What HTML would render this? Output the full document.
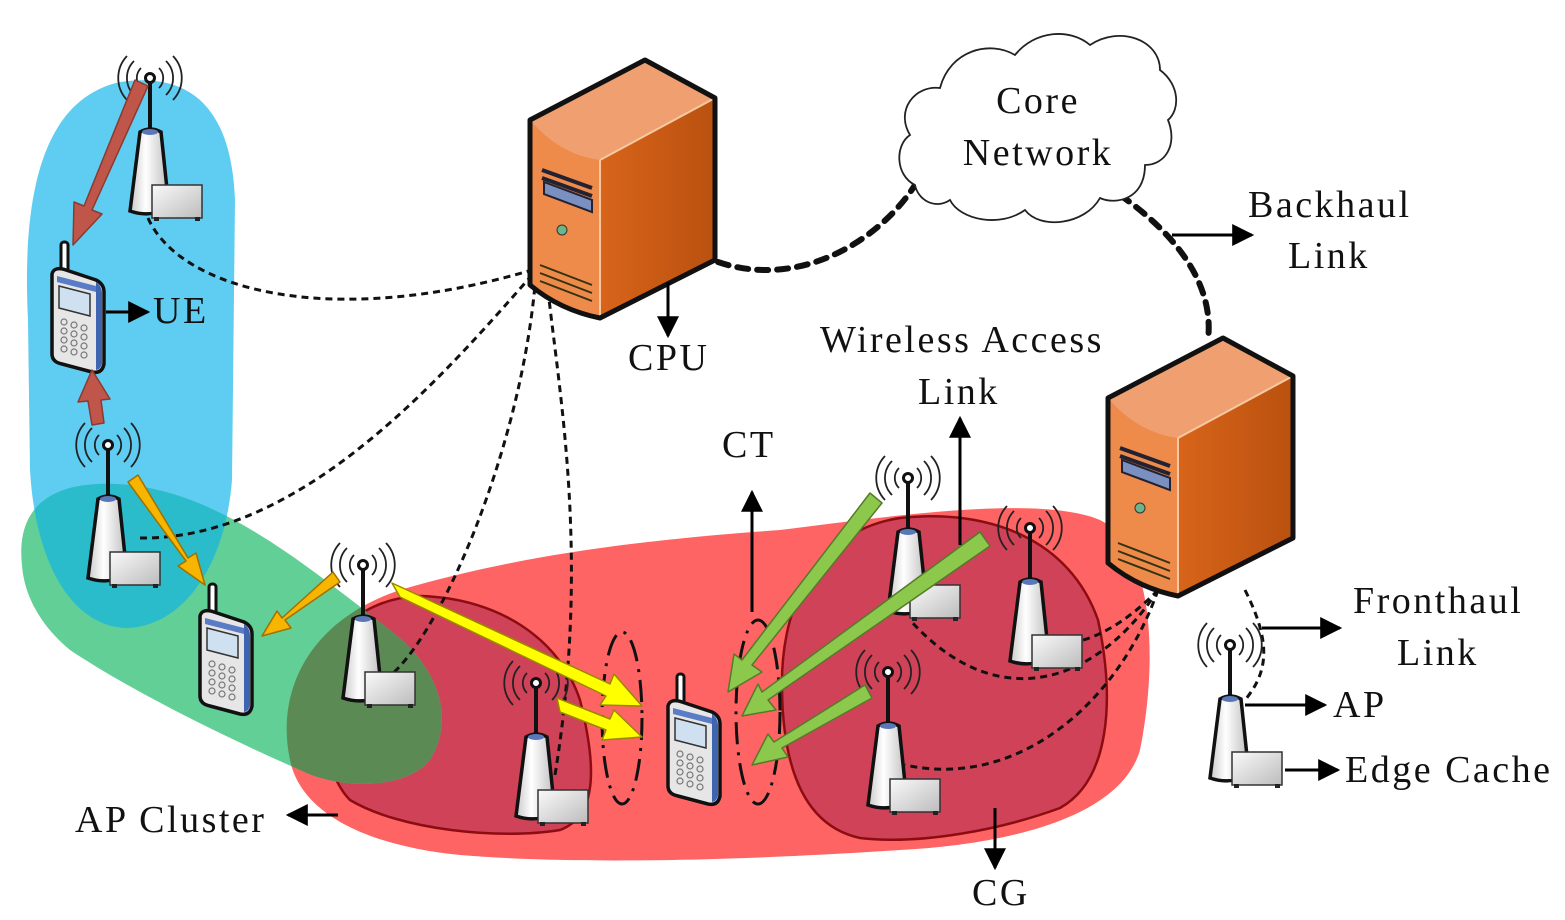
<!DOCTYPE html>
<html><head><meta charset="utf-8"><style>
html,body{margin:0;padding:0;background:#fff;}
svg{display:block;}
text{font-family:"Liberation Serif",serif;font-size:38px;letter-spacing:2.5px;fill:#111;}
</style></head><body>
<svg width="1565" height="920" viewBox="0 0 1565 920" xmlns="http://www.w3.org/2000/svg">
<defs>
<linearGradient id="tw" x1="0" x2="1"><stop offset="0" stop-color="#c8c8c8"/><stop offset="0.4" stop-color="#fff"/><stop offset="1" stop-color="#bdbdbd"/></linearGradient>
<linearGradient id="bx" x1="0" x2="1" y1="0" y2="1"><stop offset="0" stop-color="#fafafa"/><stop offset="1" stop-color="#bcbcbc"/></linearGradient>
<linearGradient id="sf" x1="0" x2="1"><stop offset="0" stop-color="#d8641a"/><stop offset="1" stop-color="#b9510f"/></linearGradient>
<g id="ap">
 <path d="M-9,-10 A14,14 0 0 0 -9,10 M9,-10 A14,14 0 0 1 9,10 M-16,-17 A24,24 0 0 0 -16,17 M16,-17 A24,24 0 0 1 16,17 M-23,-22 A32,32 0 0 0 -23,22 M23,-22 A32,32 0 0 1 23,22" fill="none" stroke="#222" stroke-width="1.8"/>
 <circle cx="0" cy="0" r="4.5" fill="#fff" stroke="#111" stroke-width="3"/>
 <line x1="0" y1="5" x2="0" y2="52" stroke="#111" stroke-width="4"/>
 <path d="M-10,54 Q0,48 11,54 L19,130 Q0,140 -20,133 Z" fill="url(#tw)" stroke="#111" stroke-width="3.5"/>
 <ellipse cx="0" cy="54" rx="8" ry="3" fill="#5a78b8"/>
 <rect x="2" y="107" width="50" height="33" fill="url(#bx)" stroke="#333" stroke-width="1.5"/>
 <rect x="4" y="139" width="5" height="4" fill="#222"/><rect x="45" y="139" width="5" height="4" fill="#222"/>
</g>
<g id="ph">
 <rect x="9" y="-26" width="7" height="30" rx="3" fill="#fff" stroke="#111" stroke-width="3"/>
 <path d="M0,6 Q2,-2 14,2 L44,12 Q52,16 52,24 L52,96 Q50,106 40,104 L10,96 Q0,94 0,86 Z" fill="#e6e6e6" stroke="#111" stroke-width="3.5"/>
 <path d="M44,14 Q50,18 50,26 L50,96 Q48,102 44,102 Z" fill="#3f64b0"/>
 <path d="M5,8 L44,18 L44,24 L5,14Z" fill="#5a7cc6"/>
 <path d="M7,18 L38,26 L38,48 L7,40 Z" fill="#cfe0f0" stroke="#333" stroke-width="1.5"/>
 <g fill="none" stroke="#777" stroke-width="1.2"><circle cx="12" cy="54" r="3"/><circle cx="22" cy="57" r="3"/><circle cx="32" cy="60" r="3"/><circle cx="12" cy="63" r="3"/><circle cx="22" cy="66" r="3"/><circle cx="32" cy="69" r="3"/><circle cx="12" cy="72" r="3"/><circle cx="22" cy="75" r="3"/><circle cx="32" cy="78" r="3"/><circle cx="12" cy="81" r="3"/><circle cx="22" cy="84" r="3"/><circle cx="32" cy="87" r="3"/></g>
</g>
<g id="sv">
 <path d="M0,0 L115,-60 L185,-22 L185,140 L70,198 Q30,190 0,165 Z" fill="#ee8a4a"/>
 <path d="M70,40 L185,-22 L185,140 L70,198 Z" fill="url(#sf)"/>
 <path d="M0,0 L115,-60 L185,-22 L70,40 Q30,35 0,0Z" fill="#f0a070"/>
 <line x1="70" y1="40" x2="70" y2="198" stroke="#f7c9a2" stroke-width="2"/>
 <line x1="70" y1="40" x2="185" y2="-22" stroke="#f7c9a2" stroke-width="2"/>
 <path d="M12,50 L62,68 M12,58 L62,76" stroke="#223" stroke-width="4"/>
 <path d="M14,62 L62,80 L62,92 L14,74Z" fill="#7a90c0" stroke="#223" stroke-width="2"/>
 <circle cx="32" cy="110" r="5" fill="#6cb58a" stroke="#333" stroke-width="1"/>
 <path d="M10,145 L62,165 M10,153 L62,173 M10,161 L62,181" stroke="#331" stroke-width="2"/>
 <path d="M0,0 L115,-60 L185,-22 L185,140 L70,198 Q30,190 0,165 Z" fill="none" stroke="#111" stroke-width="5" stroke-linejoin="round"/>
</g>
<marker id="ah" viewBox="0 0 10 10" refX="9" refY="5" markerWidth="22" markerHeight="22" orient="auto" markerUnits="userSpaceOnUse"><path d="M0,0 L10,5 L0,10Z" fill="#000"/></marker>
<path id="bluep" d="M28,320 C22,200 40,100 120,82 C200,70 232,120 235,200 L232,480 C225,570 180,628 125,628 C70,625 35,560 30,470 Z"/>
<path id="greenp" d="M22,565 C15,500 60,478 130,485 C220,495 300,560 390,630 C440,668 455,720 430,760 C405,790 340,790 300,770 C220,735 130,690 70,650 C40,625 24,595 22,565Z"/>
<path id="redp" d="M290,760 C275,690 310,620 400,590 C520,555 640,540 780,530 C900,515 1040,495 1100,520 C1150,545 1160,650 1140,750 C1120,820 1000,845 900,850 C750,860 580,865 460,855 C360,845 300,810 290,760Z"/>
<clipPath id="cg"><use href="#greenp"/></clipPath>
</defs>

<use href="#bluep" fill="#5fcdf2"/>
<use href="#redp" fill="#fe6464"/>
<path d="M320,700 C315,640 360,598 420,596 C500,598 560,640 580,700 C595,760 600,815 560,830 C500,840 400,830 350,800 C330,780 322,740 320,700Z" fill="#d04258" stroke="#8b0d12" stroke-width="2.5"/>
<path d="M782,690 C780,600 820,530 900,518 C990,508 1070,540 1098,620 C1115,700 1110,780 1060,808 C1000,830 920,845 860,838 C800,825 783,760 782,690Z" fill="#d04258" stroke="#8b0d12" stroke-width="2.5"/>
<use href="#greenp" fill="#62cf96"/>
<g clip-path="url(#cg)"><use href="#bluep" fill="#2bbccb"/><use href="#redp" fill="#5b8a55"/></g>

<g fill="none" stroke="#111" stroke-width="3" stroke-dasharray="7,5">
<path d="M148,218 C180,290 330,330 532,270"/>
<path d="M140,538 C300,540 440,380 532,275"/>
<path d="M385,680 C440,640 520,450 535,285"/>
<path d="M548,290 C560,400 590,560 555,775"/>
<path d="M1158,590 C1120,630 1080,645 1065,642"/>
<path d="M1158,590 C1100,680 1000,720 910,620"/>
<path d="M1158,590 C1120,700 1020,790 905,765"/>
<path d="M1245,590 C1270,640 1270,670 1245,700"/>
</g>
<g fill="none" stroke="#111" stroke-width="6" stroke-dasharray="11,9" stroke-linecap="round">
<path d="M718,262 C800,290 880,240 915,185"/>
<path d="M1120,195 C1170,230 1215,280 1208,340"/>
</g>

<path d="M915,185 C895,175 895,145 910,135 C895,110 915,85 940,88 C950,50 990,40 1015,55 C1035,30 1070,28 1090,45 C1120,25 1160,40 1160,70 C1180,85 1180,110 1168,120 C1178,145 1165,165 1145,165 C1145,200 1115,205 1100,198 C1085,225 1040,230 1025,210 C1000,228 960,220 950,200 C935,210 918,200 915,185Z" fill="#fff" stroke="#222" stroke-width="1.8"/>

<use href="#sv" x="530" y="120"/>
<use href="#sv" x="1108" y="398"/>

<use href="#ap" x="150" y="78"/>
<use href="#ap" x="108" y="445"/>
<use href="#ap" x="363" y="565"/>
<use href="#ap" x="536" y="683"/>
<use href="#ap" x="908" y="478"/>
<use href="#ap" x="1030" y="528"/>
<use href="#ap" x="888" y="672"/>
<use href="#ap" x="1230" y="645"/>

<use href="#ph" x="52" y="268"/>
<use href="#ph" x="200" y="610"/>
<use href="#ph" x="668" y="700"/>

<g fill="none" stroke="#111" stroke-width="3" stroke-dasharray="22,8,3,8">
<ellipse cx="622" cy="718" rx="20" ry="86"/>
<ellipse cx="758" cy="712" rx="22" ry="92"/>
</g>

<g stroke-width="1.5" stroke-linejoin="round">
<path d="M135,80 L148,86 L92,210 L102,214 L73,245 L74,202 L84,206 Z" fill="#c0564a" stroke="#8a3a30"/>
<path d="M92,425 L104,423 L101,400 L110,399 L92,370 L78,402 L88,401 Z" fill="#c0564a" stroke="#8a3a30"/>
<path d="M128,482 L138,475 L188,558 L196,553 L205,585 L178,566 L186,561 Z" fill="#f7b500" stroke="#a07000"/>
<path d="M333,572 L340,582 L285,620 L291,628 L262,636 L277,611 L282,618 Z" fill="#f7b500" stroke="#a07000"/>
<path d="M392,583 L400,597 L606,696 L600,705 L642,706 L614,674 L610,684 Z" fill="#ffff00" stroke="#998800"/>
<path d="M557,698 L560,712 L606,730 L602,740 L642,737 L614,710 L610,719 Z" fill="#ffff00" stroke="#998800"/>
<path d="M870,493 L882,503 L752,665 L762,672 L728,692 L734,654 L742,660 Z" fill="#8cc84b" stroke="#557a2a"/>
<path d="M980,532 L990,546 L768,700 L776,710 L742,716 L758,684 L762,692 Z" fill="#8cc84b" stroke="#557a2a"/>
<path d="M865,685 L872,698 L782,748 L788,757 L752,765 L768,734 L774,742 Z" fill="#8cc84b" stroke="#557a2a"/>
</g>

<g stroke="#000" stroke-width="3" fill="none" marker-end="url(#ah)">
<line x1="106" y1="312" x2="148" y2="312"/>
<line x1="668" y1="282" x2="668" y2="336"/>
<line x1="1172" y1="235" x2="1252" y2="235"/>
<line x1="960" y1="545" x2="960" y2="418"/>
<line x1="752" y1="612" x2="752" y2="492"/>
<line x1="1262" y1="628" x2="1340" y2="628"/>
<line x1="1245" y1="705" x2="1325" y2="705"/>
<line x1="1285" y1="770" x2="1338" y2="770"/>
<line x1="338" y1="815" x2="288" y2="815"/>
<line x1="995" y1="808" x2="995" y2="868"/>
</g>

<text x="153" y="323">UE</text>
<text x="628" y="370">CPU</text>
<text x="1038" y="113" text-anchor="middle">Core</text>
<text x="1038" y="165" text-anchor="middle">Network</text>
<text x="1248" y="217">Backhaul</text>
<text x="1288" y="268">Link</text>
<text x="820" y="352">Wireless Access</text>
<text x="918" y="404">Link</text>
<text x="722" y="457">CT</text>
<text x="1353" y="613">Fronthaul</text>
<text x="1397" y="665">Link</text>
<text x="1333" y="717">AP</text>
<text x="1345" y="782">Edge Cache</text>
<text x="75" y="832">AP Cluster</text>
<text x="972" y="905">CG</text>
</svg>
</body></html>
